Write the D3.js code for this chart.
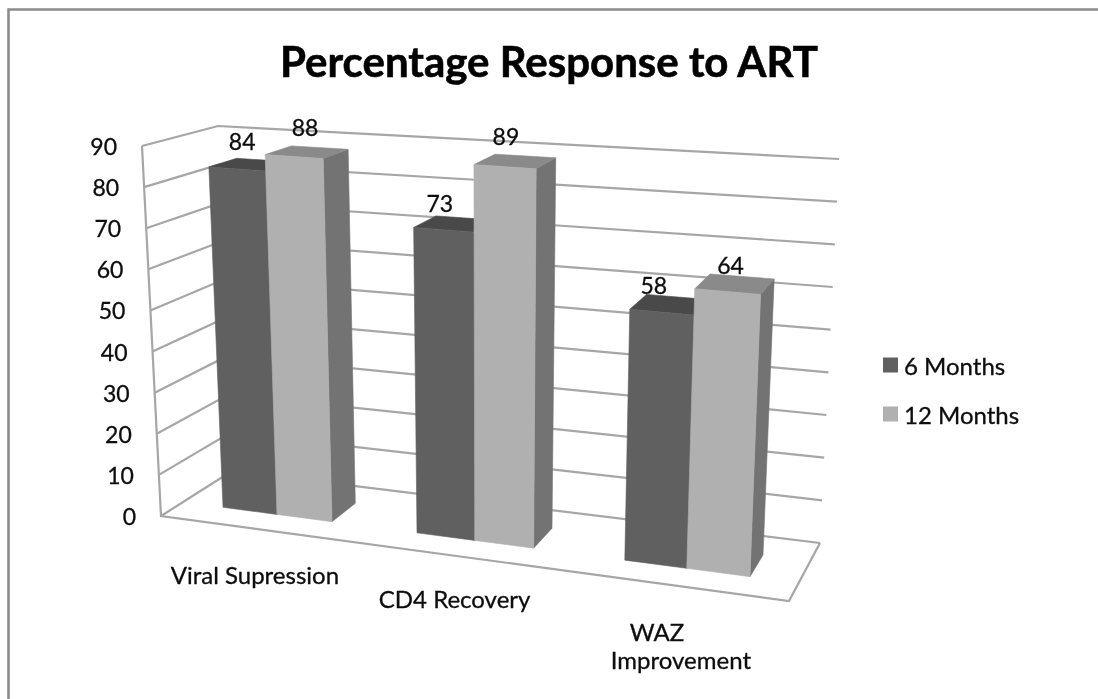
<!DOCTYPE html>
<html><head><meta charset="utf-8">
<script src="https://cdn.jsdelivr.net/npm/d3@7"></script>
<style>html,body{margin:0;padding:0;background:#fff;overflow:hidden}text{font-family:Lato,"Open Sans",sans-serif;fill:#0c0c0c;stroke:#0c0c0c;stroke-width:.3}</style>
</head><body><svg id="c" width="1098" height="699"><defs><filter id="soft" filterUnits="userSpaceOnUse" x="0" y="0" width="1098" height="699"><feGaussianBlur stdDeviation="0.55"/></filter></defs></svg>
<script>
const categories=["Viral Supression","CD4 Recovery","WAZ Improvement"];
const seriesNames=["6 Months","12 Months"];
const months6=[84,73,58];
const months12=[88,89,64];
const yTicks=[0,10,20,30,40,50,60,70,80,90];
const labelDx=[[5,-4,-8],[11,1,3]];
const labelDy=[[-28,-27,-27],[-30,-31,-27]];
const frame={fl0:[161,516],fl1:[142,146],bl0:[232,471],bl1:[218,126],br0:[820,543],br1:[839,159],fr0:[789,601],fr1:[806,194]};
const colors=[{front:"#606060",top:"#4a4a4a",side:"#505050"},{front:"#b0b0b0",top:"#8a8a8a",side:"#737373"}];

const svg=d3.select("#c").append("g").attr("filter","url(#soft)");
svg.append("rect").attr("width",1098).attr("height",699).attr("fill","#fff");
const lerp=(a,b,t)=>[a[0]+(b[0]-a[0])*t,a[1]+(b[1]-a[1])*t];
const yNorm=d3.scaleLinear().domain([0,90]).range([0,1]);
const persp=u=>u/(u+1.11*(1-u));
function project(u,depth,val){
  const s=persp(u),v=depth,h=yNorm(val);
  const bot=lerp(lerp(frame.fl0,frame.fr0,s),lerp(frame.bl0,frame.br0,s),v);
  const top=lerp(lerp(frame.fl1,frame.fr1,s),lerp(frame.bl1,frame.br1,s),v);
  return lerp(bot,top,h);
}
const line=d3.line();
const grid="#a6a6a6";
svg.append("path").attr("d",line([[8.5,699],[8.5,9.5],[1098,9.5]])).attr("fill","none").attr("stroke","#8c8c8c").attr("stroke-width",2.6);

const G=svg.append("g").attr("fill","none").attr("stroke",grid).attr("stroke-width",2.2);
yTicks.forEach(t=>G.append("path").attr("d",line([project(0,0,t),project(0,1,t),project(1,1,t)])));
G.append("path").attr("d",line([project(0,0,90),project(0,0,0),project(1,0,0),project(1,1,0)]));

const cat=d3.scaleBand().domain(categories).range([0,1]).paddingInner(.43).paddingOuter(.215);
const ser=d3.scaleBand().domain(seriesNames).range([0,cat.bandwidth()]);
const dMin=.31,dMax=.69;
const data=[months6,months12];
const bars=svg.append("g");
const labels=[];
categories.forEach((c,ci)=>{
 seriesNames.forEach((n,si)=>{
  const val=data[si][ci],u0=cat(c)+ser(n),u1=u0+ser.bandwidth(),col=colors[si];
  const poly=(pts,f)=>bars.append("path").attr("d",line(pts)+"Z").attr("fill",f).attr("stroke",f).attr("stroke-width",.6);
  poly([project(u1,dMin,0),project(u1,dMax,0),project(u1,dMax,val),project(u1,dMin,val)],col.side);
  poly([project(u0,dMin,val),project(u1,dMin,val),project(u1,dMax,val),project(u0,dMax,val)],col.top);
  poly([project(u0,dMin,0),project(u1,dMin,0),project(u1,dMin,val),project(u0,dMin,val)],col.front);
  const p=project((u0+u1)/2,dMin,val);
  labels.push({x:p[0]+labelDx[si][ci],y:p[1]+labelDy[si][ci],t:val});
 });
});
svg.append("g").selectAll("text").data(labels).join("text").attr("x",d=>d.x).attr("y",d=>d.y).attr("text-anchor","middle").attr("dominant-baseline","central").attr("font-size",23).text(d=>d.t);

svg.append("g").selectAll("text").data(yTicks).join("text")
 .attr("x",d=>project(0,0,d)[0]-25).attr("y",d=>project(0,0,d)[1]).attr("text-anchor","end").attr("dominant-baseline","central").attr("font-size",23).text(d=>d);

svg.append("text").attr("x",549).attr("y",61).attr("text-anchor","middle").attr("dominant-baseline","central").attr("font-size",42).attr("font-weight",700).attr("style","fill:#000;stroke:#000;stroke-width:.6").text("Percentage Response to ART");

const catLabels=svg.append("g").attr("font-size",24);
const catDx=[[-2],[-4],[-18,6]],catDy=[46,42,46];
categories.forEach((c,i)=>{
 const p=project(cat(c)+cat.bandwidth()/2,0,0);
 const words=i===2?c.split(" "):[c];
 words.forEach((w,k)=>catLabels.append("text").attr("x",p[0]+catDx[i][k]).attr("y",p[1]+catDy[i]+k*28).attr("text-anchor","middle").attr("dominant-baseline","central").text(w));
});

const lx=[883,883],ly=[365,414];
seriesNames.forEach((n,i)=>{
 svg.append("rect").attr("x",lx[i]).attr("y",ly[i]-7.5).attr("width",15).attr("height",15).attr("fill",colors[i].front);
 svg.append("text").attr("x",lx[i]+21).attr("y",ly[i]).attr("dominant-baseline","central").attr("font-size",24).text(n);
});
</script></body></html>
